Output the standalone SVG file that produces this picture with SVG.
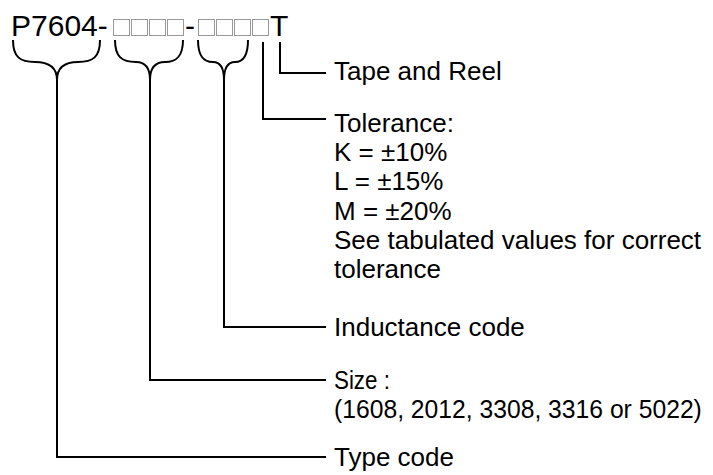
<svg xmlns="http://www.w3.org/2000/svg" width="713" height="475" viewBox="0 0 713 475">
<style>
.t{font-family:"Liberation Sans",Arial,sans-serif;font-size:26px;fill:#000}
.m{font-family:"Liberation Sans",Arial,sans-serif;font-size:30px;fill:#000}
.box{fill:none;stroke:#999;stroke-width:1}
.ln{fill:none;stroke:#000;stroke-width:2}
</style>
<rect width="713" height="475" fill="#fff"/>
<g id="code">
<text class="m" x="11" y="36">P7604-</text>
<rect class="box" x="113.5" y="19.5" width="16" height="16"/>
<rect class="box" x="131.5" y="19.5" width="16" height="16"/>
<rect class="box" x="149.5" y="19.5" width="16" height="16"/>
<rect class="box" x="167.5" y="19.5" width="16" height="16"/>
<text class="m" x="185" y="36">-</text>
<rect class="box" x="198.5" y="19.5" width="16" height="16"/>
<rect class="box" x="216.5" y="19.5" width="16" height="16"/>
<rect class="box" x="234.5" y="19.5" width="16" height="16"/>
<rect class="box" x="252.5" y="19.5" width="16" height="16"/>
<text class="m" x="270" y="36">T</text>
</g>
<g id="connectors">
<path class="ln" d="M13,40 C13,57 20,62 35,62 C50,62 57,68 57,80 M100,40 C100,57 93,62 78,62 C64,62 57,68 57,80 M57,80 V457 H326"/>
<path class="ln" d="M115,40 C115,57 122,62 136,62 C145,62 150,68 150,80 M183,40 C183,57 176,62 165,62 C155,62 150,68 150,80 M150,80 V380 H326"/>
<path class="ln" d="M198,40 C198,57 204,62 213,62 C220,62 224,68 224,80 M248,40 C248,57 242,62 235,62 C228,62 224,68 224,80 M224,80 V327 H326"/>
<path class="ln" d="M263,42 V119 H326"/>
<path class="ln" d="M280,42 V73 H326"/>
</g>
<g id="tape"><text class="t" x="334" y="80">Tape and Reel</text></g>
<g id="tolerance">
<text class="t" x="334" y="132">Tolerance:</text>
<text class="t" x="334" y="161">K = ±10%</text>
<text class="t" x="334" y="190">L = ±15%</text>
<text class="t" x="334" y="220">M = ±20%</text>
<text class="t" x="334" y="249">See tabulated values for correct</text>
<text class="t" x="334" y="278">tolerance</text>
</g>
<g id="inductance"><text class="t" x="334" y="336">Inductance code</text></g>
<g id="size">
<text class="t" transform="translate(334,389) scale(0.86,1)" x="0" y="0">Size :</text>
<text class="t" transform="translate(334,418) scale(0.95,1)" x="0" y="0">(1608, 2012, 3308, 3316 or 5022)</text>
</g>
<g id="type"><text class="t" x="334" y="466">Type code</text></g>
</svg>
